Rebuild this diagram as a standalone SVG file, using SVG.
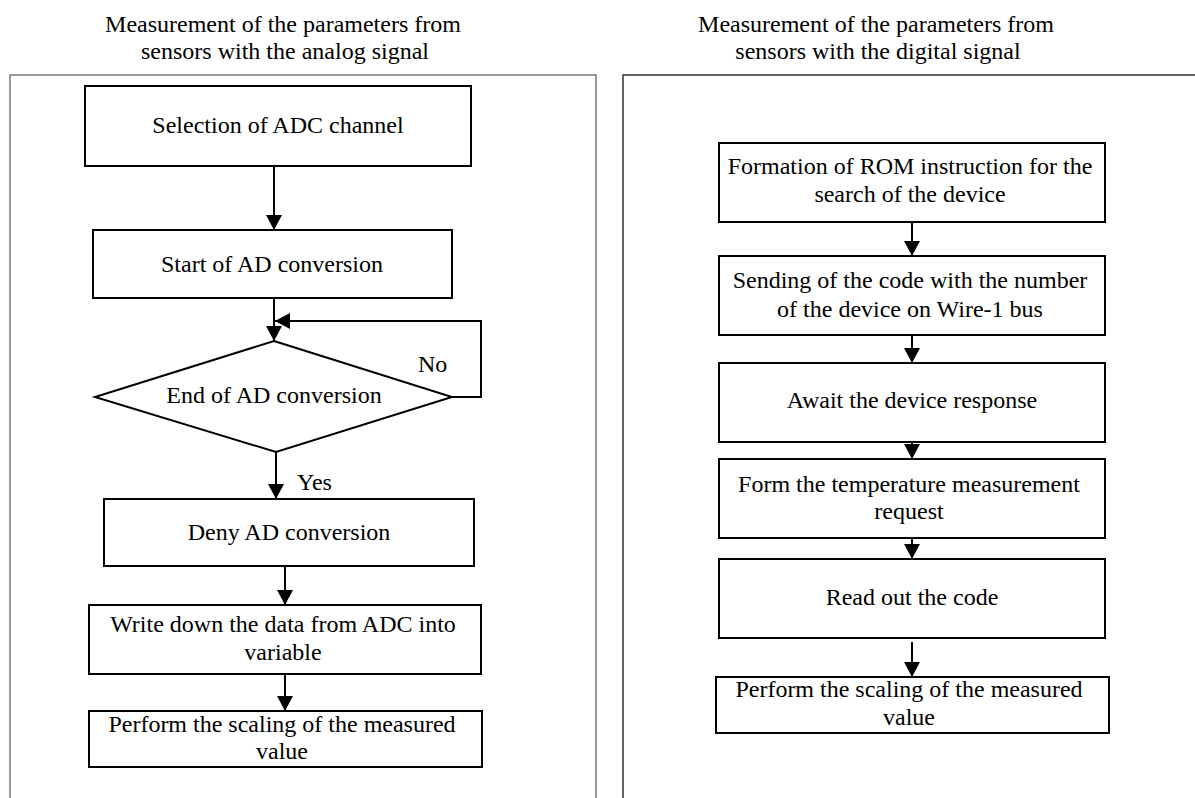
<svg xmlns="http://www.w3.org/2000/svg" width="1195" height="798" viewBox="0 0 1195 798">
<defs>
<marker id="ah" viewBox="0 0 15 16" refX="15" refY="8" markerWidth="15" markerHeight="16" markerUnits="userSpaceOnUse" orient="auto">
<path d="M0,0 L15,8 L0,16 z" fill="#000"/>
</marker>
<style>
text{font-family:"Liberation Serif","Times New Roman",serif;font-size:24px;fill:#000;text-anchor:middle}
.box{fill:#fff;stroke:#000;stroke-width:2}
.frame{fill:none;stroke:#777;stroke-width:1.5}
.frame2{fill:none;stroke:#333;stroke-width:1.5}
.conn{fill:none;stroke:#000;stroke-width:2;marker-end:url(#ah)}
.lbl{text-anchor:start}
</style>
</defs>
<rect width="1195" height="798" fill="#fff"/>

<g id="title-left">
<text x="283" y="32">Measurement of the parameters from</text>
<text x="285" y="59">sensors with the analog signal</text>
</g>
<g id="title-right">
<text x="876" y="32">Measurement of the parameters from</text>
<text x="878" y="59">sensors with the digital signal</text>
</g>

<g id="frames">
<path class="frame" d="M10,805 V75 H596 V805"/>
<path class="frame2" d="M623,805 V75 H1200"/>
</g>

<g id="connectors">
<path class="conn" d="M274,166 V230"/>
<path class="conn" d="M274,298 V341"/>
<path class="conn" d="M452,397 H481 V321 H275"/>
<path class="conn" d="M276,452 V499"/>
<path class="conn" d="M285,566 V605"/>
<path class="conn" d="M285,674 V711"/>
<path class="conn" d="M912,222 V256"/>
<path class="conn" d="M912,335 V363"/>
<path class="conn" d="M912,442 V459"/>
<path class="conn" d="M912,538 V559"/>
<path class="conn" d="M912,642 V677"/>
<text class="lbl" x="418" y="372">No</text>
<text class="lbl" x="297" y="490">Yes</text>
</g>

<g id="n-selection">
<rect class="box" x="85" y="86" width="386" height="80"/>
<text x="278" y="133">Selection of ADC channel</text>
</g>
<g id="n-start">
<rect class="box" x="93" y="230" width="359" height="68"/>
<text x="272" y="272">Start of AD conversion</text>
</g>
<g id="n-end">
<polygon class="box" points="274,341 452,397 276,452 95,397"/>
<text x="274" y="403">End of AD conversion</text>
</g>
<g id="n-deny">
<rect class="box" x="104" y="499" width="370" height="67"/>
<text x="289" y="540">Deny AD conversion</text>
</g>
<g id="n-write">
<rect class="box" x="89" y="605" width="392" height="69"/>
<text x="283" y="632">Write down the data from ADC into</text>
<text x="283" y="660">variable</text>
</g>
<g id="n-perform-left">
<rect class="box" x="89" y="711" width="393" height="56"/>
<text x="282" y="732">Perform the scaling of the measured</text>
<text x="282" y="759">value</text>
</g>

<g id="n-formation">
<rect class="box" x="719" y="143" width="386" height="79"/>
<text x="910" y="174">Formation of ROM instruction for the</text>
<text x="910" y="202">search of the device</text>
</g>
<g id="n-sending">
<rect class="box" x="719" y="256" width="386" height="79"/>
<text x="910" y="288">Sending of the code with the number</text>
<text x="910" y="317">of the device on Wire-1 bus</text>
</g>
<g id="n-await">
<rect class="box" x="719" y="363" width="386" height="79"/>
<text x="912" y="408">Await the device response</text>
</g>
<g id="n-form">
<rect class="box" x="719" y="459" width="386" height="79"/>
<text x="909" y="492">Form the temperature measurement</text>
<text x="909" y="519">request</text>
</g>
<g id="n-read">
<rect class="box" x="719" y="559" width="386" height="79"/>
<text x="912" y="605">Read out the code</text>
</g>
<g id="n-perform-right">
<rect class="box" x="716" y="677" width="393" height="56"/>
<text x="909" y="697">Perform the scaling of the measured</text>
<text x="909" y="725">value</text>
</g>
</svg>
